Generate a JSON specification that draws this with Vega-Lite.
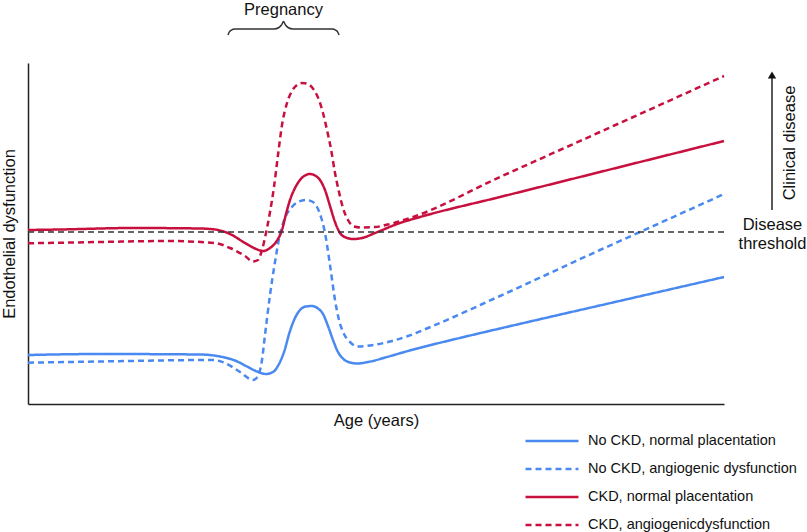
{
  "$schema": "https://vega.github.io/schema/vega-lite/v6.json",
  "width": 696,
  "height": 341,
  "autosize": {"type": "none"},
  "padding": {"left": 28, "top": 63, "right": 83, "bottom": 128},
  "background": "white",
  "config": {
    "view": {"stroke": null},
    "font": "Liberation Sans",
    "legend": {
      "orient": "none",
      "legendX": 496,
      "legendY": 370,
      "symbolType": "stroke",
      "symbolSize": 2809,
      "symbolStrokeWidth": 2.5,
      "labelFontSize": 14.5,
      "labelFont": "Liberation Sans",
      "labelColor": "#111",
      "labelOffset": 8,
      "labelLimit": 400,
      "clipHeight": 16,
      "rowPadding": 12,
      "padding": 0
    }
  },
  "layer": [
    {
      "data": {"values": [
        {"series": "No CKD, normal placentation", "age": 0, "level": 49},
        {"series": "No CKD, normal placentation", "age": 72, "level": 50},
        {"series": "No CKD, normal placentation", "age": 172, "level": 49.5},
        {"series": "No CKD, normal placentation", "age": 192, "level": 47.5},
        {"series": "No CKD, normal placentation", "age": 207, "level": 43.5},
        {"series": "No CKD, normal placentation", "age": 219, "level": 37.5},
        {"series": "No CKD, normal placentation", "age": 229, "level": 32.5},
        {"series": "No CKD, normal placentation", "age": 238, "level": 30},
        {"series": "No CKD, normal placentation", "age": 245, "level": 32},
        {"series": "No CKD, normal placentation", "age": 251, "level": 40},
        {"series": "No CKD, normal placentation", "age": 256, "level": 52},
        {"series": "No CKD, normal placentation", "age": 262, "level": 73},
        {"series": "No CKD, normal placentation", "age": 267, "level": 86},
        {"series": "No CKD, normal placentation", "age": 272, "level": 94},
        {"series": "No CKD, normal placentation", "age": 278, "level": 97.5},
        {"series": "No CKD, normal placentation", "age": 284, "level": 98},
        {"series": "No CKD, normal placentation", "age": 290, "level": 95.5},
        {"series": "No CKD, normal placentation", "age": 295, "level": 90},
        {"series": "No CKD, normal placentation", "age": 300, "level": 78},
        {"series": "No CKD, normal placentation", "age": 305, "level": 64},
        {"series": "No CKD, normal placentation", "age": 310, "level": 52},
        {"series": "No CKD, normal placentation", "age": 316, "level": 44.5},
        {"series": "No CKD, normal placentation", "age": 322, "level": 41.5},
        {"series": "No CKD, normal placentation", "age": 329, "level": 40.5},
        {"series": "No CKD, normal placentation", "age": 340, "level": 42},
        {"series": "No CKD, normal placentation", "age": 359, "level": 47},
        {"series": "No CKD, normal placentation", "age": 380, "level": 53},
        {"series": "No CKD, normal placentation", "age": 405, "level": 59.5},
        {"series": "No CKD, normal placentation", "age": 440, "level": 68},
        {"series": "No CKD, normal placentation", "age": 500, "level": 82},
        {"series": "No CKD, normal placentation", "age": 600, "level": 105},
        {"series": "No CKD, normal placentation", "age": 696, "level": 127},

        {"series": "No CKD, angiogenic dysfunction", "age": 0, "level": 41.3},
        {"series": "No CKD, angiogenic dysfunction", "age": 72, "level": 42.5},
        {"series": "No CKD, angiogenic dysfunction", "age": 185, "level": 44},
        {"series": "No CKD, angiogenic dysfunction", "age": 197, "level": 41},
        {"series": "No CKD, angiogenic dysfunction", "age": 212, "level": 32},
        {"series": "No CKD, angiogenic dysfunction", "age": 225, "level": 24},
        {"series": "No CKD, angiogenic dysfunction", "age": 230, "level": 28},
        {"series": "No CKD, angiogenic dysfunction", "age": 234, "level": 44},
        {"series": "No CKD, angiogenic dysfunction", "age": 237, "level": 69},
        {"series": "No CKD, angiogenic dysfunction", "age": 242, "level": 109},
        {"series": "No CKD, angiogenic dysfunction", "age": 247, "level": 142},
        {"series": "No CKD, angiogenic dysfunction", "age": 252, "level": 170},
        {"series": "No CKD, angiogenic dysfunction", "age": 257, "level": 186},
        {"series": "No CKD, angiogenic dysfunction", "age": 263, "level": 196},
        {"series": "No CKD, angiogenic dysfunction", "age": 270, "level": 202},
        {"series": "No CKD, angiogenic dysfunction", "age": 278, "level": 204},
        {"series": "No CKD, angiogenic dysfunction", "age": 284, "level": 202.5},
        {"series": "No CKD, angiogenic dysfunction", "age": 289, "level": 197},
        {"series": "No CKD, angiogenic dysfunction", "age": 293, "level": 187},
        {"series": "No CKD, angiogenic dysfunction", "age": 297, "level": 171},
        {"series": "No CKD, angiogenic dysfunction", "age": 302, "level": 139},
        {"series": "No CKD, angiogenic dysfunction", "age": 307, "level": 104},
        {"series": "No CKD, angiogenic dysfunction", "age": 311, "level": 84},
        {"series": "No CKD, angiogenic dysfunction", "age": 316, "level": 70},
        {"series": "No CKD, angiogenic dysfunction", "age": 322, "level": 62},
        {"series": "No CKD, angiogenic dysfunction", "age": 329, "level": 57.5},
        {"series": "No CKD, angiogenic dysfunction", "age": 342, "level": 58.5},
        {"series": "No CKD, angiogenic dysfunction", "age": 362, "level": 62.5},
        {"series": "No CKD, angiogenic dysfunction", "age": 380, "level": 68},
        {"series": "No CKD, angiogenic dysfunction", "age": 400, "level": 76},
        {"series": "No CKD, angiogenic dysfunction", "age": 472, "level": 108},
        {"series": "No CKD, angiogenic dysfunction", "age": 572, "level": 154},
        {"series": "No CKD, angiogenic dysfunction", "age": 612, "level": 172},
        {"series": "No CKD, angiogenic dysfunction", "age": 696, "level": 210},

        {"series": "CKD, normal placentation", "age": 0, "level": 174},
        {"series": "CKD, normal placentation", "age": 32, "level": 174.5},
        {"series": "CKD, normal placentation", "age": 105, "level": 176},
        {"series": "CKD, normal placentation", "age": 172, "level": 175.5},
        {"series": "CKD, normal placentation", "age": 187, "level": 174.5},
        {"series": "CKD, normal placentation", "age": 202, "level": 170},
        {"series": "CKD, normal placentation", "age": 217, "level": 161},
        {"series": "CKD, normal placentation", "age": 227, "level": 155.5},
        {"series": "CKD, normal placentation", "age": 235, "level": 153},
        {"series": "CKD, normal placentation", "age": 242, "level": 156},
        {"series": "CKD, normal placentation", "age": 248, "level": 162},
        {"series": "CKD, normal placentation", "age": 254, "level": 174},
        {"series": "CKD, normal placentation", "age": 258, "level": 190},
        {"series": "CKD, normal placentation", "age": 262, "level": 204},
        {"series": "CKD, normal placentation", "age": 267, "level": 216},
        {"series": "CKD, normal placentation", "age": 272, "level": 224},
        {"series": "CKD, normal placentation", "age": 277, "level": 228.5},
        {"series": "CKD, normal placentation", "age": 282, "level": 230},
        {"series": "CKD, normal placentation", "age": 287, "level": 228.5},
        {"series": "CKD, normal placentation", "age": 292, "level": 224},
        {"series": "CKD, normal placentation", "age": 297, "level": 214},
        {"series": "CKD, normal placentation", "age": 302, "level": 198},
        {"series": "CKD, normal placentation", "age": 307, "level": 182},
        {"series": "CKD, normal placentation", "age": 312, "level": 171},
        {"series": "CKD, normal placentation", "age": 318, "level": 166.5},
        {"series": "CKD, normal placentation", "age": 325, "level": 165},
        {"series": "CKD, normal placentation", "age": 334, "level": 166},
        {"series": "CKD, normal placentation", "age": 347, "level": 171},
        {"series": "CKD, normal placentation", "age": 372, "level": 181},
        {"series": "CKD, normal placentation", "age": 392, "level": 187},
        {"series": "CKD, normal placentation", "age": 472, "level": 207},
        {"series": "CKD, normal placentation", "age": 572, "level": 232},
        {"series": "CKD, normal placentation", "age": 696, "level": 263},

        {"series": "CKD, angiogenicdysfunction", "age": 0, "level": 160.7},
        {"series": "CKD, angiogenicdysfunction", "age": 72, "level": 162},
        {"series": "CKD, angiogenicdysfunction", "age": 139, "level": 163},
        {"series": "CKD, angiogenicdysfunction", "age": 187, "level": 161},
        {"series": "CKD, angiogenicdysfunction", "age": 202, "level": 156},
        {"series": "CKD, angiogenicdysfunction", "age": 217, "level": 148},
        {"series": "CKD, angiogenicdysfunction", "age": 225, "level": 142.5},
        {"series": "CKD, angiogenicdysfunction", "age": 230, "level": 144},
        {"series": "CKD, angiogenicdysfunction", "age": 234, "level": 154},
        {"series": "CKD, angiogenicdysfunction", "age": 238, "level": 171},
        {"series": "CKD, angiogenicdysfunction", "age": 242, "level": 192},
        {"series": "CKD, angiogenicdysfunction", "age": 246, "level": 217},
        {"series": "CKD, angiogenicdysfunction", "age": 250, "level": 249},
        {"series": "CKD, angiogenicdysfunction", "age": 254, "level": 279},
        {"series": "CKD, angiogenicdysfunction", "age": 259, "level": 301},
        {"series": "CKD, angiogenicdysfunction", "age": 264, "level": 313},
        {"series": "CKD, angiogenicdysfunction", "age": 269, "level": 319},
        {"series": "CKD, angiogenicdysfunction", "age": 274, "level": 321},
        {"series": "CKD, angiogenicdysfunction", "age": 280, "level": 320},
        {"series": "CKD, angiogenicdysfunction", "age": 286, "level": 314},
        {"series": "CKD, angiogenicdysfunction", "age": 291, "level": 304},
        {"series": "CKD, angiogenicdysfunction", "age": 295, "level": 291},
        {"series": "CKD, angiogenicdysfunction", "age": 299, "level": 274},
        {"series": "CKD, angiogenicdysfunction", "age": 303, "level": 255},
        {"series": "CKD, angiogenicdysfunction", "age": 307, "level": 231},
        {"series": "CKD, angiogenicdysfunction", "age": 311, "level": 212},
        {"series": "CKD, angiogenicdysfunction", "age": 315, "level": 196},
        {"series": "CKD, angiogenicdysfunction", "age": 320, "level": 184},
        {"series": "CKD, angiogenicdysfunction", "age": 326, "level": 177.5},
        {"series": "CKD, angiogenicdysfunction", "age": 334, "level": 176.5},
        {"series": "CKD, angiogenicdysfunction", "age": 347, "level": 177},
        {"series": "CKD, angiogenicdysfunction", "age": 362, "level": 180},
        {"series": "CKD, angiogenicdysfunction", "age": 382, "level": 186},
        {"series": "CKD, angiogenicdysfunction", "age": 472, "level": 227},
        {"series": "CKD, angiogenicdysfunction", "age": 572, "level": 272},
        {"series": "CKD, angiogenicdysfunction", "age": 696, "level": 328}
      ]},
      "mark": {"type": "line", "strokeWidth": 2.5, "interpolate": "monotone", "clip": false},
      "encoding": {
        "x": {
          "field": "age", "type": "quantitative",
          "scale": {"domain": [0, 696], "nice": false, "zero": false},
          "axis": {"title": "Age (years)", "labels": false, "ticks": false, "grid": false,
                   "domainColor": "#222", "domainWidth": 1.5, "titlePadding": 8,
                   "titleFontSize": 16.5, "titleFontWeight": "normal", "titleColor": "#111",
                   "titleFont": "Liberation Sans"}
        },
        "y": {
          "field": "level", "type": "quantitative",
          "scale": {"domain": [0, 341], "nice": false, "zero": false},
          "axis": {"title": "Endothelial dysfunction", "labels": false, "ticks": false, "grid": false,
                   "domainColor": "#222", "domainWidth": 1.5, "titlePadding": 11,
                   "titleFontSize": 16.5, "titleFontWeight": "normal", "titleColor": "#111",
                   "titleFont": "Liberation Sans"}
        },
        "color": {
          "field": "series", "type": "nominal",
          "scale": {
            "domain": ["No CKD, normal placentation", "No CKD, angiogenic dysfunction", "CKD, normal placentation", "CKD, angiogenicdysfunction"],
            "range": ["#4a89f0", "#4a89f0", "#c8103f", "#c8103f"]
          },
          "legend": {"title": null}
        },
        "strokeDash": {
          "field": "series", "type": "nominal",
          "scale": {
            "domain": ["No CKD, normal placentation", "No CKD, angiogenic dysfunction", "CKD, normal placentation", "CKD, angiogenicdysfunction"],
            "range": [[1, 0], [6, 4], [1, 0], [6, 4]]
          },
          "legend": {"title": null}
        }
      }
    },
    {
      "data": {"values": [{"level": 172}]},
      "mark": {"type": "rule", "strokeDash": [6, 4], "color": "#333", "strokeWidth": 1.5},
      "encoding": {"y": {"field": "level", "type": "quantitative"}}
    },
    {
      "data": {"values": [
        {"age": 200, "level": 369}, {"age": 201, "level": 371.5}, {"age": 203, "level": 373.7},
        {"age": 207, "level": 375}, {"age": 246, "level": 375}, {"age": 251, "level": 376.5},
        {"age": 253.5, "level": 379}, {"age": 255.5, "level": 382.5}, {"age": 257.5, "level": 379},
        {"age": 260, "level": 376.5}, {"age": 265, "level": 375}, {"age": 304, "level": 375},
        {"age": 308, "level": 373.7}, {"age": 310, "level": 371.5}, {"age": 311, "level": 369}
      ]},
      "mark": {"type": "line", "color": "#333", "strokeWidth": 1.5, "interpolate": "monotone", "clip": false},
      "encoding": {
        "x": {"field": "age", "type": "quantitative"},
        "y": {"field": "level", "type": "quantitative"}
      }
    },
    {
      "data": {"values": [{"age": 744, "level": 194, "level2": 326}]},
      "mark": {"type": "rule", "color": "#222", "strokeWidth": 1.5, "clip": false},
      "encoding": {
        "x": {"field": "age", "type": "quantitative"},
        "y": {"field": "level", "type": "quantitative"},
        "y2": {"field": "level2"}
      }
    },
    {
      "data": {"values": [{"age": 744, "level": 329}]},
      "mark": {"type": "point", "shape": "triangle-up", "filled": true, "color": "#111", "size": 70, "opacity": 1, "clip": false},
      "encoding": {
        "x": {"field": "age", "type": "quantitative"},
        "y": {"field": "level", "type": "quantitative"}
      }
    },
    {
      "data": {"values": [
        {"age": 255.5, "level": 394, "label": "Pregnancy"},
        {"age": 744.5, "level": 179, "label": "Disease"},
        {"age": 744.5, "level": 160, "label": "threshold"}
      ]},
      "mark": {"type": "text", "fontSize": 16.5, "font": "Liberation Sans", "color": "#111", "align": "center", "baseline": "middle", "clip": false},
      "encoding": {
        "x": {"field": "age", "type": "quantitative"},
        "y": {"field": "level", "type": "quantitative"},
        "text": {"field": "label"}
      }
    },
    {
      "data": {"values": [{"age": 762, "level": 261, "label": "Clinical disease"}]},
      "mark": {"type": "text", "fontSize": 16.5, "font": "Liberation Sans", "color": "#111", "align": "center", "baseline": "middle", "angle": 270, "clip": false},
      "encoding": {
        "x": {"field": "age", "type": "quantitative"},
        "y": {"field": "level", "type": "quantitative"},
        "text": {"field": "label"}
      }
    }
  ]
}
